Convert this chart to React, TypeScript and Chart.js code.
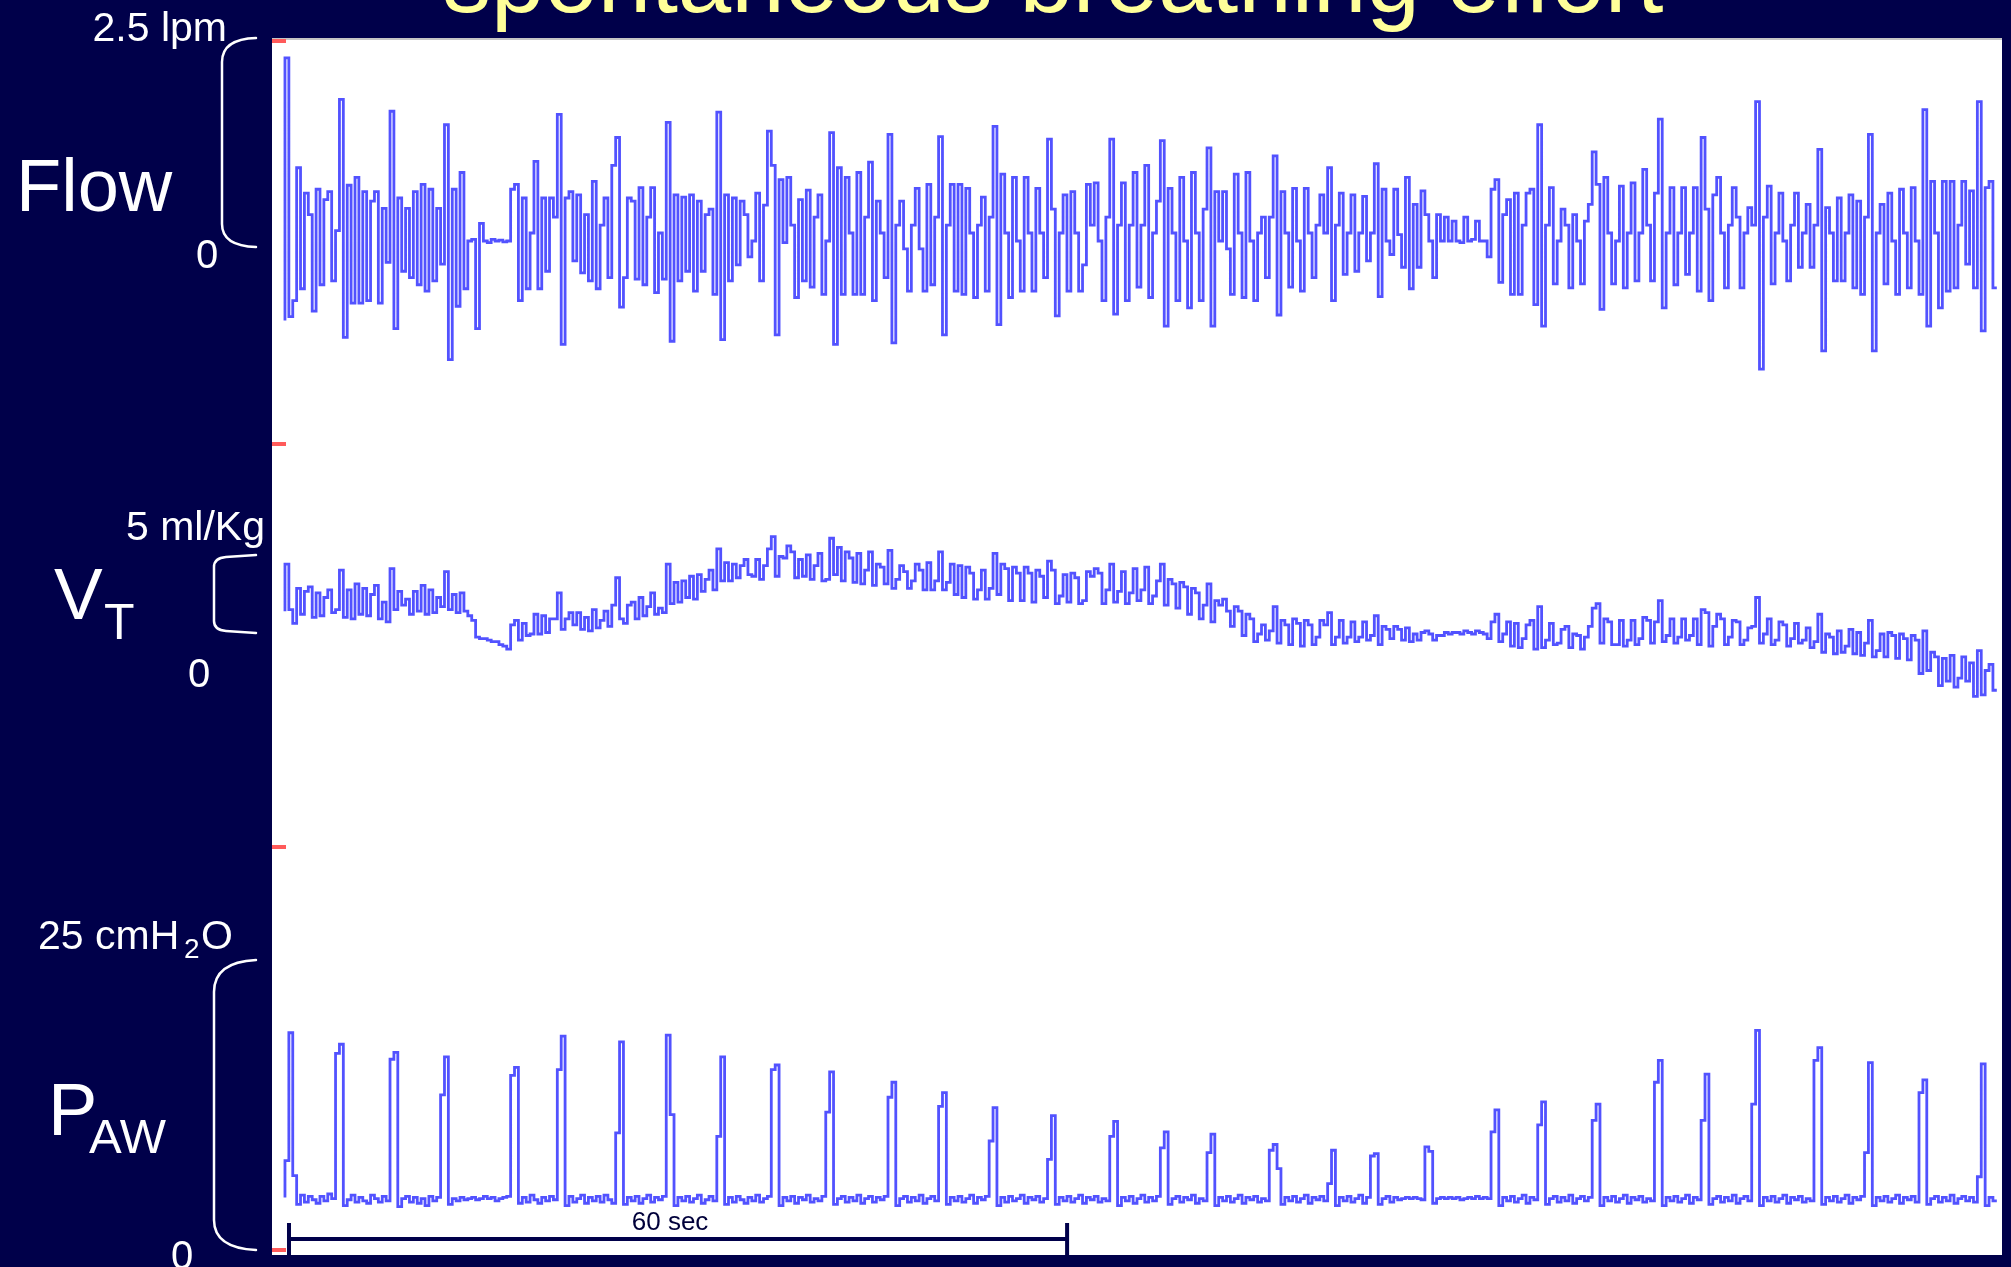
import React, { useEffect, useRef } from "react";
import { Chart, registerables } from "chart.js";

Chart.register(...registerables);

// ---- data ----
const TITLE = "spontaneous breathing effort";
const SAMPLE_START_S = 1.0; // time of first sample (s)
const SAMPLE_STEP_S = 0.3; // sample spacing (s)
const TIME_RANGE_S = [0, 133.4];
const SCALE_BAR_S = [1.31, 61.31];
const SCALE_BAR_LABEL = "60 sec";

const FLOW_LABELS = { top: "2.5 lpm", zero: "0", name: "Flow" };
const VT_LABELS = { top: "5 ml/Kg", zero: "0", name: "V", sub: "T" };
const PAW_LABELS = { top: "25 cmH", topSub: "2", topTail: "O", zero: "0", name: "P", sub: "AW" };

// Flow (lpm)
const flowLpm = [
  -1.0, 2.3, -0.95, -0.75, 0.92, -0.6, 0.6, 0.33, -0.88, 0.65,
  -0.55, 0.52, 0.62, -0.5, 0.13, 1.78, -1.21, 0.7, -0.78, 0.8,
  -0.78, 0.62, -0.75, 0.5, 0.62, -0.78, 0.41, -0.27, 1.63, -1.1,
  0.54, -0.38, 0.41, -0.46, 0.62, -0.55, 0.71, -0.63, 0.65, -0.5,
  0.41, -0.29, 1.46, -1.49, 0.65, -0.82, 0.86, -0.6, 0.0, 0.02,
  -1.1, 0.22, 0.0, -0.02, 0.02, 0.0, 0.01, -0.01, 0.0, 0.65,
  0.71, -0.75, 0.54, -0.6, 0.1, 1.0, -0.6, 0.54, -0.38, 0.54,
  0.3, 1.59, -1.3, 0.54, 0.62, -0.25, 0.58, -0.4, 0.33, -0.5,
  0.75, -0.6, 0.2, 0.54, -0.46, 0.95, 1.3, -0.83, -0.46, 0.54,
  0.5, -0.48, 0.67, -0.55, 0.3, 0.67, -0.65, 0.1, -0.48, 1.49,
  -1.26, 0.58, -0.5, 0.55, -0.38, 0.58, -0.63, 0.5, -0.38, 0.33,
  0.4, -0.67, 1.62, -1.24, 0.58, -0.5, 0.54, -0.3, 0.5, 0.33,
  -0.2, 0.0, 0.6, -0.5, 0.45, 1.38, 0.95, -1.18, 0.77, -0.02,
  0.8, 0.2, -0.71, 0.52, -0.5, 0.64, -0.58, 0.3, 0.58, -0.67,
  0.0, 1.36, -1.3, 0.92, -0.67, 0.8, 0.1, -0.67, 0.86, -0.67,
  0.3, 0.99, -0.75, 0.5, 0.1, -0.46, 1.34, -1.28, 0.2, 0.5,
  -0.1, -0.63, 0.2, 0.66, -0.1, -0.63, 0.71, -0.55, 0.3, 1.31,
  -1.18, 0.2, 0.71, -0.63, 0.71, -0.67, 0.66, 0.1, -0.71, 0.2,
  0.55, -0.63, 0.3, 1.44, -1.05, 0.84, 0.1, -0.71, 0.8, 0.0,
  -0.63, 0.8, 0.1, -0.63, 0.66, 0.1, -0.46, 1.28, 0.4, -0.94,
  0.1, 0.58, -0.63, 0.62, 0.1, -0.63, -0.3, 0.71, 0.2, 0.73,
  0.0, -0.75, 0.3, 1.28, -0.92, 0.2, 0.73, -0.75, 0.2, 0.86,
  -0.58, 0.2, 0.95, -0.71, 0.1, 0.5, 1.26, -1.07, 0.66, 0.1,
  -0.75, 0.8, 0.0, -0.84, 0.86, 0.1, -0.75, 0.4, 1.17, -1.07,
  0.62, 0.0, 0.62, -0.1, -0.67, 0.84, 0.1, -0.71, 0.86, 0.0,
  -0.75, 0.1, 0.3, -0.46, 0.3, 1.07, -0.93, 0.62, 0.1, -0.58,
  0.66, 0.0, -0.63, 0.66, 0.1, -0.46, 0.2, 0.58, 0.1, 0.92,
  -0.75, 0.2, 0.6, -0.42, 0.1, 0.58, -0.38, 0.1, 0.56, -0.25,
  0.1, 0.97, -0.7, 0.65, 0.0, -0.17, 0.65, 0.08, -0.33, 0.8,
  -0.6, 0.46, -0.33, 0.63, 0.33, 0.0, -0.46, 0.33, 0.0, 0.3,
  0.0, 0.25, 0.0, -0.02, 0.3, 0.0, 0.02, 0.25, 0.0, 0.0,
  -0.2, 0.65, 0.77, -0.52, 0.33, 0.52, -0.67, 0.6, -0.67, 0.2,
  0.6, 0.65, -0.8, 1.46, -1.07, 0.2, 0.67, -0.54, 0.0, 0.4,
  0.2, -0.59, 0.33, 0.0, -0.54, 0.25, 0.46, 1.12, 0.71, -0.86,
  0.8, 0.1, -0.54, 0.0, 0.69, -0.59, 0.1, 0.73, -0.5, 0.1,
  0.9, 0.2, -0.5, 0.6, 1.53, -0.84, 0.1, 0.67, -0.55, 0.1,
  0.67, -0.42, 0.1, 0.67, -0.63, 1.3, 0.4, -0.75, 0.58, 0.8,
  0.1, -0.59, 0.2, 0.67, 0.3, -0.59, 0.1, 0.42, 0.2, 1.75,
  -1.61, 0.3, 0.69, -0.54, 0.1, 0.6, 0.0, -0.5, 0.2, 0.6,
  -0.33, 0.1, 0.46, -0.33, 0.2, 1.15, -1.38, 0.42, 0.1, -0.5,
  0.54, -0.5, 0.1, 0.58, -0.59, 0.5, -0.67, 0.3, 1.34, -1.38,
  0.1, 0.46, -0.54, 0.6, 0.0, -0.67, 0.65, 0.1, -0.59, 0.67,
  0.0, -0.67, 1.65, -1.07, 0.75, 0.1, -0.84, 0.75, -0.63, 0.75,
  -0.59, 0.2, 0.75, -0.29, 0.63, -0.59, 1.75, -1.13, 0.67, 0.75,
  -0.59,
];

// Tidal volume (ml/kg, relative)
const vtMlKg = [
  6.5, 9.6, 6.6, 5.7, 8.0, 6.3, 7.8, 8.1, 6.1, 7.7,
  6.2, 7.4, 7.9, 6.4, 6.6, 9.2, 6.1, 7.9, 6.0, 8.3,
  6.3, 8.0, 6.2, 7.6, 8.2, 6.0, 7.1, 5.8, 9.3, 6.6,
  7.8, 6.9, 7.3, 6.3, 7.8, 6.5, 8.2, 6.3, 7.9, 6.4,
  7.4, 6.8, 9.1, 6.6, 7.6, 6.4, 7.7, 6.5, 6.2, 5.9,
  4.8, 4.7, 4.7, 4.6, 4.5, 4.5, 4.3, 4.2, 4.0, 5.6,
  5.9, 4.6, 5.7, 4.9, 5.0, 6.3, 5.0, 6.2, 5.1, 6.0,
  6.0, 7.7, 5.3, 6.0, 6.4, 5.6, 6.4, 5.3, 6.1, 5.2,
  6.6, 5.4, 5.9, 6.5, 5.5, 6.9, 8.7, 6.0, 5.7, 6.9,
  7.1, 6.0, 7.4, 6.2, 6.8, 7.7, 6.3, 6.7, 6.4, 9.6,
  7.0, 8.4, 7.1, 8.5, 7.4, 8.8, 7.3, 8.9, 7.8, 8.6,
  9.2, 7.9, 10.6, 8.5, 9.7, 8.5, 9.6, 8.7, 9.5, 9.9,
  8.9, 8.8, 9.9, 8.6, 9.5, 10.6, 11.4, 8.8, 10.1, 10.0,
  10.8, 10.4, 8.7, 9.9, 8.8, 10.2, 8.6, 9.5, 10.3, 8.5,
  8.6, 11.3, 8.9, 10.7, 8.5, 10.4, 10.0, 8.4, 10.3, 8.3,
  9.2, 10.4, 8.2, 9.6, 9.4, 8.3, 10.5, 8.0, 8.6, 9.5,
  9.1, 8.0, 8.5, 9.6, 9.2, 7.9, 9.7, 7.9, 8.5, 10.4,
  7.9, 8.4, 9.6, 7.6, 9.5, 7.4, 9.4, 9.0, 7.3, 7.9,
  9.2, 7.3, 8.0, 10.3, 7.6, 9.6, 9.3, 7.2, 9.4, 9.0,
  7.2, 9.4, 9.0, 7.1, 9.2, 8.8, 7.4, 9.8, 9.2, 7.0,
  7.5, 8.9, 7.1, 9.0, 8.7, 7.0, 7.2, 9.1, 8.8, 9.3,
  9.0, 7.0, 7.9, 9.6, 7.1, 7.8, 9.1, 7.0, 7.7, 9.3,
  7.2, 7.9, 9.4, 7.0, 7.5, 8.5, 9.6, 6.9, 8.6, 8.3,
  6.7, 8.4, 8.1, 6.3, 8.0, 7.7, 6.0, 6.9, 8.3, 5.8,
  7.2, 6.9, 7.3, 6.5, 5.5, 6.8, 6.5, 4.9, 6.3, 6.0,
  4.5, 5.0, 5.6, 4.6, 5.2, 6.8, 4.4, 5.9, 5.6, 4.3,
  6.0, 5.7, 4.2, 5.9, 5.6, 4.3, 4.8, 5.9, 5.6, 6.4,
  4.3, 4.8, 5.9, 4.4, 4.8, 5.8, 4.5, 4.8, 5.8, 4.6,
  4.9, 6.2, 4.3, 5.5, 5.3, 4.7, 5.5, 5.3, 4.6, 5.4,
  4.5, 5.0, 4.6, 5.1, 5.2, 5.0, 4.6, 4.9, 4.9, 5.1,
  5.0, 5.1, 5.1, 5.0, 5.2, 5.1, 5.0, 5.2, 5.1, 5.0,
  4.7, 5.8, 6.3, 4.5, 5.0, 5.8, 4.2, 5.7, 4.1, 4.7,
  5.6, 5.9, 4.0, 6.8, 4.1, 4.6, 5.7, 4.3, 4.4, 5.3,
  5.5, 4.1, 5.0, 4.9, 4.0, 4.8, 5.5, 6.7, 7.0, 4.4,
  6.0, 5.8, 4.3, 4.3, 5.9, 4.2, 4.6, 5.9, 4.3, 4.7,
  6.1, 5.9, 4.4, 5.8, 7.2, 4.5, 4.9, 6.0, 4.4, 4.8,
  6.0, 4.6, 4.9, 6.0, 4.3, 6.6, 6.4, 4.2, 5.5, 6.3,
  6.0, 4.3, 4.8, 5.9, 5.8, 4.3, 4.6, 5.4, 5.5, 7.4,
  4.4, 5.0, 6.0, 4.3, 4.6, 5.8, 5.6, 4.2, 4.7, 5.7,
  4.4, 4.6, 5.4, 4.1, 4.5, 6.3, 3.8, 5.0, 4.8, 3.7,
  5.2, 3.8, 4.2, 5.3, 3.7, 5.1, 3.6, 4.4, 5.9, 3.5,
  3.9, 5.0, 3.5, 5.1, 4.9, 3.4, 5.0, 4.7, 3.3, 4.9,
  4.6, 2.4, 5.2, 2.6, 3.8, 3.5, 1.6, 3.4, 1.9, 3.6,
  1.5, 2.1, 3.5, 1.9, 3.1, 0.9, 3.9, 1.0, 2.6, 3.0,
  1.3,
];

// Airway pressure (cmH2O)
const pawCmH2O = [
  4.3, 7.5, 18.6, 6.2, 3.7, 4.5, 3.9, 4.4, 4.1, 3.8,
  4.4, 4.0, 4.6, 4.2, 16.8, 17.6, 3.6, 4.1, 4.5, 3.9,
  4.3, 4.0, 3.8, 4.5, 4.2, 3.9, 4.4, 4.0, 16.3, 16.9,
  3.5, 4.2, 4.4, 3.9, 4.3, 3.8, 4.2, 3.6, 4.4, 4.0,
  4.3, 13.2, 16.5, 3.7, 4.2, 4.0, 4.3, 4.1, 4.2, 4.3,
  4.1, 4.2, 4.4, 4.2, 4.3, 4.0, 4.2, 4.3, 4.4, 14.9,
  15.6, 3.8, 4.3, 3.9, 4.5, 4.1, 3.8, 4.3, 4.0, 4.4,
  4.1, 15.4, 18.3, 3.6, 4.4, 3.9, 4.2, 4.5, 3.8, 4.3,
  4.0, 4.4, 3.9, 4.5, 4.1, 3.8, 9.9, 17.8, 3.7, 4.3,
  4.0, 4.4, 3.8, 4.2, 4.5, 3.9, 4.3, 4.1, 4.4, 18.4,
  11.5, 3.6, 4.3, 4.0, 4.4, 3.9, 4.2, 4.5, 3.8, 4.1,
  4.4, 4.0, 9.6, 16.5, 3.7, 4.3, 3.9, 4.4, 4.1, 3.8,
  4.3, 4.0, 4.5, 3.9, 4.2, 4.4, 15.4, 15.8, 3.6, 4.3,
  4.0, 4.4, 3.8, 4.3, 4.1, 4.5, 3.9, 4.2, 4.0, 4.4,
  11.7, 15.2, 3.7, 4.2, 4.4, 3.9, 4.3, 4.0, 4.5, 3.8,
  4.2, 4.4, 3.9, 4.3, 4.1, 4.4, 13.0, 14.3, 3.6, 4.2,
  4.4, 3.9, 4.3, 4.0, 4.5, 3.8, 4.2, 4.4, 4.0, 12.2,
  13.4, 3.7, 4.3, 4.0, 4.4, 3.9, 4.2, 4.5, 3.8, 4.3,
  4.1, 4.4, 9.2, 12.1, 3.6, 4.3, 3.9, 4.4, 4.0, 4.2,
  4.5, 3.8, 4.3, 4.1, 4.4, 3.9, 4.2, 7.6, 11.4, 3.7,
  4.3, 4.0, 4.4, 3.9, 4.2, 4.5, 3.8, 4.3, 4.1, 4.4,
  3.9, 4.2, 4.0, 9.6, 10.9, 3.6, 4.3, 4.0, 4.4, 3.8,
  4.2, 4.5, 3.9, 4.3, 4.0, 4.4, 8.6, 10.0, 3.7, 4.2,
  4.4, 3.9, 4.3, 4.1, 4.5, 3.8, 4.2, 4.0, 8.2, 9.8,
  3.6, 4.3, 4.0, 4.4, 3.9, 4.2, 4.5, 3.8, 4.3, 4.1,
  4.4, 3.9, 4.2, 4.0, 8.4, 8.9, 6.8, 3.7, 4.3, 4.0,
  4.4, 3.9, 4.2, 4.5, 3.8, 4.3, 4.1, 4.4, 4.0, 5.5,
  8.4, 3.6, 4.3, 4.0, 4.4, 3.9, 4.2, 4.5, 3.8, 4.3,
  7.9, 8.1, 3.7, 4.2, 4.4, 3.9, 4.3, 4.1, 4.2, 4.3,
  4.2, 4.3, 4.2, 4.1, 8.7, 8.3, 3.8, 4.2, 4.3, 4.2,
  4.3, 4.2, 4.3, 4.1, 4.2, 4.3, 4.2, 4.4, 4.2, 4.3,
  4.2, 10.0, 11.9, 3.6, 4.3, 4.0, 4.4, 3.9, 4.2, 4.5,
  3.8, 4.3, 4.1, 10.6, 12.6, 3.7, 4.2, 4.4, 3.9, 4.3,
  4.0, 4.5, 3.8, 4.2, 4.4, 4.0, 4.3, 11.0, 12.4, 3.6,
  4.3, 4.0, 4.4, 3.9, 4.2, 4.5, 3.8, 4.3, 4.1, 4.4,
  3.9, 4.2, 4.0, 14.3, 16.2, 3.6, 4.3, 4.0, 4.4, 3.9,
  4.2, 4.5, 3.8, 4.3, 4.1, 11.0, 15.0, 3.7, 4.2, 4.4,
  3.9, 4.3, 4.0, 4.5, 3.8, 4.2, 4.4, 4.0, 12.4, 18.8,
  3.6, 4.3, 4.0, 4.4, 3.9, 4.2, 4.5, 3.8, 4.3, 4.1,
  4.4, 3.9, 4.2, 4.0, 16.2, 17.3, 3.7, 4.3, 4.0, 4.4,
  3.9, 4.2, 4.5, 3.8, 4.3, 4.1, 4.4, 8.2, 16.0, 3.6,
  4.3, 4.0, 4.4, 3.9, 4.2, 4.5, 3.8, 4.3, 4.1, 4.4,
  3.9, 13.4, 14.5, 3.7, 4.2, 4.4, 3.9, 4.3, 4.0, 4.5,
  3.8, 4.2, 4.4, 4.0, 4.3, 3.9, 6.1, 15.9, 3.6, 4.3,
  4.0,
];

// ---- styling ----
const NAVY = "#00004a";
const TRACE = "#5252ff";
const YELLOW = "#ffff99";
const FONT = '"Liberation Sans", Arial, Helvetica, sans-serif';
const W = 2011;
const H = 1267;

function toPoints(values: number[]) {
  return values.map((v, i) => ({ x: SAMPLE_START_S + i * SAMPLE_STEP_S, y: v }));
}

const decorPlugin = {
  id: "decor",
  beforeDraw(chart: any) {
    const { ctx, chartArea: a } = chart;
    ctx.save();
    ctx.fillStyle = NAVY;
    ctx.fillRect(0, 0, chart.width, chart.height);
    ctx.fillStyle = "#ffffff";
    ctx.fillRect(a.left, a.top, a.right - a.left, a.bottom - a.top);
    ctx.fillStyle = "#c4c4c4";
    ctx.fillRect(a.left, a.top, a.right - a.left, 2);
    ctx.restore();
  },
  afterDraw(chart: any) {
    const { ctx, chartArea: a } = chart;
    const xs = chart.scales.x;
    ctx.save();

    // red division marks on the left edge
    ctx.fillStyle = "#ff5a5a";
    const top = a.top + 3;
    const bot = a.bottom - 5;
    for (let k = 0; k < 4; k++) {
      const y = top + (k * (bot - top)) / 3;
      ctx.fillRect(a.left, y - 2, 14, 4);
    }

    // time scale bar
    const x0 = xs.getPixelForValue(SCALE_BAR_S[0]);
    const x1 = xs.getPixelForValue(SCALE_BAR_S[1]);
    ctx.strokeStyle = NAVY;
    ctx.lineWidth = 4;
    ctx.beginPath();
    ctx.moveTo(x0, 1239);
    ctx.lineTo(x1, 1239);
    ctx.moveTo(x0, 1223);
    ctx.lineTo(x0, a.bottom);
    ctx.moveTo(x1, 1223);
    ctx.lineTo(x1, a.bottom);
    ctx.stroke();
    ctx.fillStyle = "#00003a";
    ctx.font = `26px ${FONT}`;
    ctx.textAlign = "center";
    ctx.textBaseline = "alphabetic";
    ctx.fillText(SCALE_BAR_LABEL, (x0 + x1) / 2 - 8, 1230);

    // title (cut off at the top)
    ctx.fillStyle = YELLOW;
    ctx.font = `96px ${FONT}`;
    ctx.textAlign = "left";
    ctx.fillText(TITLE, 443, 12);

    // left labels
    ctx.fillStyle = "#ffffff";
    const txt = (s: string, size: number, x: number, y: number, align: CanvasTextAlign = "left") => {
      ctx.font = `${size}px ${FONT}`;
      ctx.textAlign = align;
      ctx.fillText(s, x, y);
    };
    txt(FLOW_LABELS.top, 41, 227, 41, "right");
    txt(FLOW_LABELS.name, 74, 16, 211);
    txt(FLOW_LABELS.zero, 40, 196, 268);

    txt(VT_LABELS.top, 41, 265, 540, "right");
    txt(VT_LABELS.name, 73, 54, 619);
    txt(VT_LABELS.sub, 50, 104, 639);
    txt(VT_LABELS.zero, 40, 188, 687);

    txt(PAW_LABELS.top, 41, 38, 949);
    txt(PAW_LABELS.topSub, 28, 184, 958);
    txt(PAW_LABELS.topTail, 41, 201, 949);
    txt(PAW_LABELS.name, 74, 48, 1135);
    txt(PAW_LABELS.sub, 49, 89, 1153);
    txt(PAW_LABELS.zero, 40, 171, 1269);

    // braces
    ctx.strokeStyle = "#ffffff";
    ctx.lineWidth = 2.5;
    ctx.lineCap = "round";
    ctx.beginPath();
    ctx.moveTo(256, 38);
    ctx.quadraticCurveTo(222, 39, 222, 62);
    ctx.lineTo(222, 224);
    ctx.quadraticCurveTo(222, 246, 256, 247);
    ctx.stroke();

    ctx.beginPath();
    ctx.moveTo(256, 555);
    ctx.lineTo(226, 557);
    ctx.quadraticCurveTo(214, 558, 214, 567);
    ctx.lineTo(214, 621);
    ctx.quadraticCurveTo(214, 630, 226, 631);
    ctx.lineTo(256, 633);
    ctx.stroke();

    ctx.beginPath();
    ctx.moveTo(256, 960);
    ctx.quadraticCurveTo(214, 962, 214, 992);
    ctx.lineTo(214, 1220);
    ctx.quadraticCurveTo(214, 1248, 256, 1250);
    ctx.stroke();

    ctx.restore();
  },
};

export default function App() {
  const ref = useRef<HTMLCanvasElement | null>(null);

  useEffect(() => {
    const canvas = ref.current;
    if (!canvas) return;
    const common = {
      stepped: "after" as const,
      borderColor: TRACE,
      borderWidth: 2.8,
      pointRadius: 0,
      fill: false,
      xAxisID: "x",
    };
    const chart = new Chart(canvas, {
      type: "line",
      data: {
        datasets: [
          { ...common, label: "Flow", data: toPoints(flowLpm), yAxisID: "yFlow" },
          { ...common, label: "VT", data: toPoints(vtMlKg), yAxisID: "yVT" },
          { ...common, label: "PAW", data: toPoints(pawCmH2O), yAxisID: "yPAW" },
        ],
      },
      options: {
        responsive: false,
        animation: false,
        devicePixelRatio: 1,
        events: [],
        layout: { padding: { left: 272, right: 9, top: 38, bottom: 12 } },
        plugins: {
          legend: { display: false },
          tooltip: { enabled: false },
          title: { display: false },
        },
        scales: {
          x: { type: "linear", min: TIME_RANGE_S[0], max: TIME_RANGE_S[1], display: false },
          yFlow: { type: "linear", min: -12.739, max: 2.55, display: false },
          yVT: { type: "linear", min: -35.855, max: 44.21, display: false },
          yPAW: { type: "linear", min: -0.694, max: 104.95, display: false },
        },
      },
      plugins: [decorPlugin],
    });
    return () => chart.destroy();
  }, []);

  return (
    <div style={{ position: "fixed", left: 0, top: 0, width: W, height: H, background: NAVY, overflow: "hidden" }}>
      <canvas ref={ref} width={W} height={H} style={{ display: "block", width: W, height: H }} />
    </div>
  );
}
